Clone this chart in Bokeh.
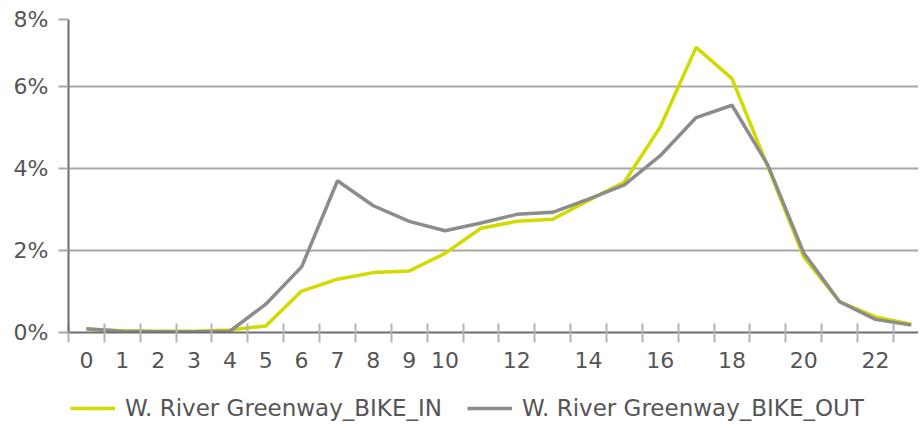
from bokeh.plotting import figure
from bokeh.layouts import column
from bokeh.models import FixedTicker, Legend, LegendItem, Range1d
from bokeh.embed import file_html
from bokeh.resources import INLINE

hours = list(range(24))
bike_in = [0.08, 0.04, 0.03, 0.03, 0.06, 0.16, 1.01, 1.30, 1.46, 1.50, 1.93, 2.54,
           2.71, 2.76, 3.22, 3.67, 5.01, 6.95, 6.19, 4.04, 1.84, 0.75, 0.38, 0.20]
bike_out = [0.09, 0.03, 0.02, 0.02, 0.03, 0.69, 1.60, 3.70, 3.09, 2.71, 2.48, 2.67,
            2.88, 2.93, 3.25, 3.60, 4.31, 5.24, 5.54, 4.08, 1.94, 0.75, 0.32, 0.18]
series_names = ["W. River Greenway_BIKE_IN", "W. River Greenway_BIKE_OUT"]
x_tick_labels = ["0", "1", "2", "3", "4", "5", "6", "7", "8", "9", "10",
                 "12", "14", "16", "18", "20", "22"]
y_tick_values = [0, 2, 4, 6, 7.63]
y_tick_labels = ["0%", "2%", "4%", "6%", "8%"]

FONT = "DejaVu Sans"
TEXT_COLOR = "#555555"
IN_COLOR = "#d2da00"
OUT_COLOR = "#8c8c8c"
LW = 3.5

xs = [h + 0.5 for h in hours]

p = figure(width=918, height=388, output_backend="svg", toolbar_location=None,
           x_range=Range1d(0, 23.7), y_range=Range1d(0, 7.63),
           min_border_left=68, min_border_right=0, min_border_top=19,
           min_border_bottom=56)
p.outline_line_color = None
p.background_fill_color = "white"
p.border_fill_color = "white"

p.line(xs, bike_in, line_color=IN_COLOR, line_width=LW)
p.line(xs, bike_out, line_color=OUT_COLOR, line_width=LW)

# x axis: labels at category centres, tick marks at category boundaries
label_pos = [int(l) + 0.5 for l in x_tick_labels]
p.xaxis.ticker = FixedTicker(ticks=label_pos, minor_ticks=list(range(0, 25)))
p.xaxis.major_label_overrides = {pos: lab for pos, lab in zip(label_pos, x_tick_labels)}
p.xaxis.major_tick_in = 0
p.xaxis.major_tick_out = 0
p.xaxis.minor_tick_in = 9
p.xaxis.minor_tick_out = 10
p.xaxis.minor_tick_line_color = "#b4b4b4"
p.xaxis.minor_tick_line_width = 2
p.xaxis.axis_line_color = "#6e6e6e"
p.xaxis.axis_line_width = 2
p.xaxis.major_label_standoff = 9
p.xaxis.major_label_text_font = FONT
p.xaxis.major_label_text_font_size = "22px"
p.xaxis.major_label_text_color = TEXT_COLOR
p.xgrid.visible = False

# y axis
p.yaxis.ticker = FixedTicker(ticks=y_tick_values, minor_ticks=[])
p.yaxis.major_label_overrides = {v: lab for v, lab in zip(y_tick_values, y_tick_labels)}
p.yaxis.major_tick_in = 0
p.yaxis.major_tick_out = 10
p.yaxis.major_tick_line_color = "#a8a8a8"
p.yaxis.major_tick_line_width = 2
p.yaxis.axis_line_color = "#6e6e6e"
p.yaxis.axis_line_width = 2
p.yaxis.major_label_standoff = 10
p.yaxis.major_label_text_font = FONT
p.yaxis.major_label_text_font_size = "22px"
p.yaxis.major_label_text_color = TEXT_COLOR
p.ygrid.ticker = FixedTicker(ticks=y_tick_values[1:])
p.ygrid.grid_line_color = "#a8a8a8"
p.ygrid.grid_line_width = 2

# legend strip below the chart (series drawn out of view, only the legend shows)
lg = figure(width=918, height=37, output_backend="svg", toolbar_location=None,
            x_range=Range1d(100, 101), y_range=Range1d(100, 101), min_border=0)
lg.axis.visible = False
lg.grid.visible = False
lg.outline_line_color = None
d_in = lg.line(xs, bike_in, line_color=IN_COLOR, line_width=LW)
d_out = lg.line(xs, bike_out, line_color=OUT_COLOR, line_width=LW)
legend = Legend(items=[LegendItem(label=series_names[0], renderers=[d_in]),
                       LegendItem(label=series_names[1], renderers=[d_out])],
                orientation="horizontal", location=(2, 4),
                border_line_color=None, background_fill_alpha=0,
                glyph_width=45, glyph_height=20, label_standoff=10, spacing=25,
                padding=2, margin=0,
                label_text_font=FONT, label_text_font_size="23px",
                label_text_color=TEXT_COLOR)
lg.add_layout(legend, "center")

open("out.html", "w").write(file_html(column(p, lg), INLINE))
